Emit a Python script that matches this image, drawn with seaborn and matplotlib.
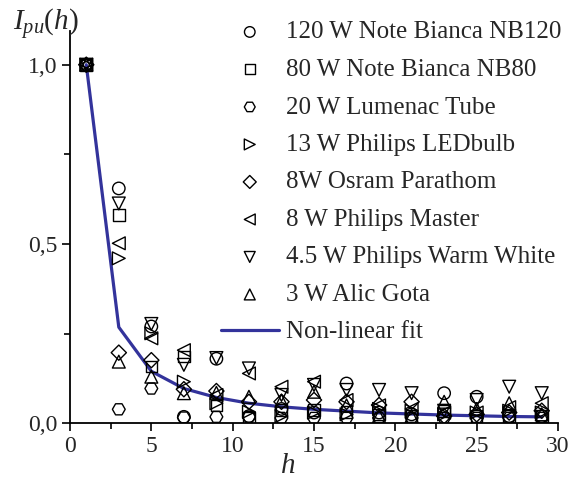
import numpy as np
import pandas as pd
import matplotlib
matplotlib.use("Agg")
import matplotlib.pyplot as plt
import seaborn as sns
from matplotlib.ticker import MultipleLocator, FuncFormatter

h = [1, 3, 5, 7, 9, 11, 13, 15, 17, 19, 21, 23, 25, 27, 29]

nb120   = [1.0, 0.655, 0.270, 0.018, 0.180, 0.020, 0.040, 0.030, 0.111, 0.030, 0.025, 0.084, 0.074, 0.020, 0.020]
nb80    = [1.0, 0.581, 0.158, 0.186, 0.050, 0.015, 0.037, 0.037, 0.032, 0.025, 0.020, 0.035, 0.020, 0.020, 0.020]
lumenac = [1.0, 0.039, 0.097, 0.016, 0.018, 0.018, 0.015, 0.015, 0.015, 0.015, 0.015, 0.015, 0.015, 0.015, 0.015]
ledbulb = [1.0, 0.460, 0.251, 0.116, 0.056, 0.032, 0.020, 0.030, 0.025, 0.040, 0.035, 0.025, 0.030, 0.035, 0.030]
osram   = [1.0, 0.197, 0.176, 0.095, 0.090, 0.060, 0.060, 0.065, 0.060, 0.051, 0.060, 0.020, 0.025, 0.030, 0.035]
master  = [1.0, 0.502, 0.237, 0.204, 0.079, 0.139, 0.102, 0.116, 0.065, 0.050, 0.040, 0.030, 0.030, 0.045, 0.056]
warm    = [1.0, 0.613, 0.277, 0.163, 0.182, 0.153, 0.079, 0.107, 0.093, 0.093, 0.084, 0.035, 0.065, 0.102, 0.084]
alic    = [1.0, 0.172, 0.130, 0.084, 0.085, 0.074, 0.063, 0.088, 0.050, 0.020, 0.020, 0.060, 0.040, 0.056, 0.025]

fit = [1.0, 0.268, 0.145, 0.097, 0.072, 0.056, 0.046, 0.039, 0.034, 0.029, 0.026, 0.023, 0.021, 0.019, 0.018]

labels = ["120 W Note Bianca NB120", "80 W Note Bianca NB80", "20 W Lumenac Tube",
          "13 W Philips LEDbulb", "8W Osram Parathom", "8 W Philips Master",
          "4.5 W Philips Warm White", "3 W Alic Gota"]
series = [nb120, nb80, lumenac, ledbulb, osram, master, warm, alic]
markers = ["o", "s", "H", ">", "D", "<", "v", "^"]
sizes = [80, 70, 85, 85, 60, 85, 85, 85]

sns.set_theme(style="ticks")
plt.rcParams["font.family"] = ["Liberation Serif", "DejaVu Serif"]
plt.rcParams["mathtext.fontset"] = "custom"
plt.rcParams["mathtext.rm"] = "Liberation Serif"
plt.rcParams["mathtext.it"] = "Liberation Serif:italic"

fig = plt.figure(figsize=(5.85, 4.96), dpi=100)
ax = fig.add_axes([70/585, 1 - 423.3/496, 488/585, (423.3 - 31)/496])

for vals, lab, m, s in zip(series, labels, markers, sizes):
    df = pd.DataFrame({"h": h, "v": vals})
    sns.scatterplot(data=df, x="h", y="v", marker=m, s=s, facecolors="none",
                    edgecolors="black", linewidth=1.0, label=lab, ax=ax, zorder=3)

dff = pd.DataFrame({"h": h, "v": fit})
sns.lineplot(data=dff, x="h", y="v", color="#33339b", linewidth=2.3,
             label="Non-linear fit", ax=ax, zorder=2)

ax.set_xlim(0, 30)
ax.set_ylim(0, 1.094)
ax.xaxis.set_major_locator(MultipleLocator(5))
ax.xaxis.set_minor_locator(MultipleLocator(2.5))
ax.yaxis.set_major_locator(MultipleLocator(0.5))
ax.yaxis.set_minor_locator(MultipleLocator(0.25))
ax.yaxis.set_major_formatter(FuncFormatter(lambda v, p: f"{v:.1f}".replace(".", ",")))
ax.tick_params(which="major", direction="out", length=6, width=1.2, labelsize=17, color="black", pad=3)
ax.tick_params(which="minor", direction="out", length=4, width=1.2, color="black")
for sp in ["top", "right"]:
    ax.spines[sp].set_visible(False)
for sp in ["left", "bottom"]:
    ax.spines[sp].set_linewidth(1.3)
    ax.spines[sp].set_color("black")
ax.set_xlabel("")
ax.set_ylabel("")

fig.text(288/585, 1 - 466/496, r"$h$", fontsize=21, ha="center", va="center")
fig.text(13/585, 1 - 24/496, r"$I_{pu}(h)$", fontsize=21, ha="left", va="center")

leg = ax.legend(loc="upper left", bbox_to_anchor=(221/585, 1 - 21/496),
                bbox_transform=fig.transFigure, frameon=False, fontsize=18,
                handlelength=2.3, handletextpad=0.3, labelspacing=0.6,
                borderaxespad=0, borderpad=0, markerscale=0.85)

fig.savefig("out.png", dpi=100)
